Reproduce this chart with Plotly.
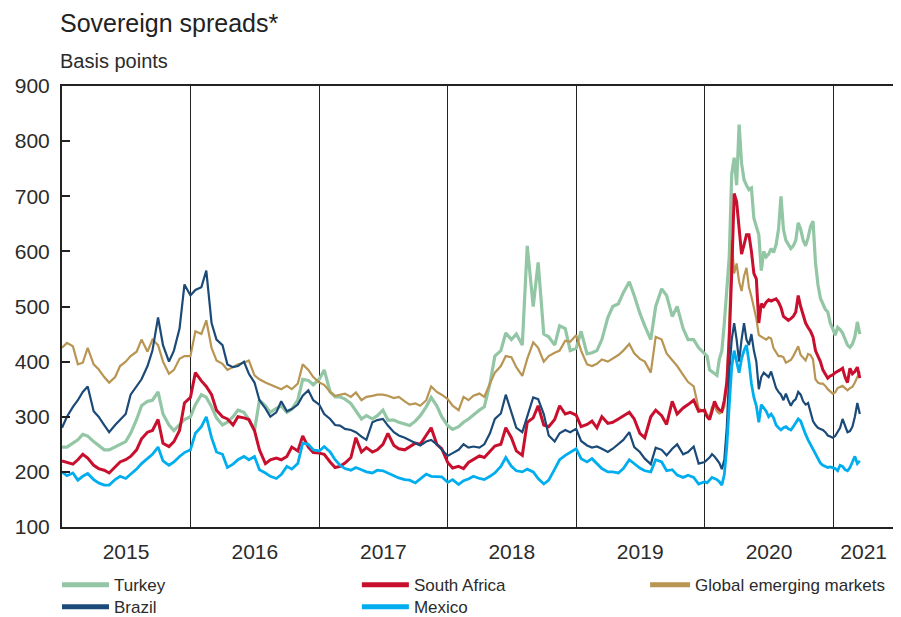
import pandas as pd
import plotly.graph_objects as go

# Dates: semi-monthly 2015-2019, weekly from 2020 to March 2021
dates_semi = list(pd.date_range("2015-01-01", "2019-12-15", freq="SMS"))
dates_week = list(pd.date_range("2020-01-01", periods=64, freq="7D"))
dates = dates_semi + dates_week

turkey = [
    245, 245, 252, 258, 268, 265, 255, 248, 240, 240, 246, 250, 255, 270, 295, 320, 328, 330, 345, 305, 285, 275, 285, 295,
    300, 322, 340, 335, 318, 298, 285, 290, 300, 312, 308, 295, 275, 330, 320, 308, 315, 320, 308, 314, 330, 368, 366, 358,
    368, 385, 345, 336, 336, 332, 324, 312, 296, 302, 296, 302, 312, 294, 294, 290, 286, 284, 292, 302, 318, 335, 320, 300,
    284, 277, 282, 290, 296, 304, 312, 318, 360, 410, 420, 452, 440, 450, 430, 610, 500, 580, 450, 445, 430, 465, 460, 420,
    424, 455, 414, 416, 420, 440, 480, 500, 505, 525, 545, 520, 488, 465, 440, 500, 532, 520, 482, 500, 460, 440, 440, 425,
    415, 410, 385, 382, 378, 375, 405, 420, 470, 540, 590, 740, 770, 720, 830, 760, 730, 720, 712, 715,
    660, 645, 630, 565, 600, 590, 595, 605, 598, 612, 640, 700, 640, 620, 612, 605, 610, 620, 652, 640,
    620, 610, 625, 645, 655, 580, 540, 515, 505, 495, 490, 470, 460, 448, 462, 458, 452, 440, 430, 426,
    432, 445, 472, 450,
]
brazil = [
    280, 300, 318, 330, 345, 355, 310, 300, 285, 272, 285, 295, 305, 340, 356, 368, 392, 420, 480, 430, 400, 420, 460, 540,
    520, 530, 535, 565, 470, 440, 430, 395, 390, 392, 400, 378, 362, 330, 315, 300, 308, 328, 310, 314, 322, 338, 348, 330,
    322, 305, 296, 285, 284, 278, 276, 272, 264, 258, 290, 294, 296, 284, 272, 266, 262, 258, 252, 248, 255, 258, 250, 240,
    229, 234, 240, 250, 244, 246, 244, 250, 270, 296, 306, 340, 310, 280, 272, 300, 335, 332, 305, 266, 255, 270, 276, 272,
    278, 256, 248, 244, 246, 242, 236, 242, 250, 258, 272, 245, 236, 224, 214, 244, 240, 230, 242, 250, 232, 236, 246, 215,
    218, 222, 226, 232, 228, 222, 216, 205, 222, 280, 380, 440, 470, 440, 400, 440, 470, 440, 430, 450,
    420, 400, 350, 372, 380, 376, 372, 382, 366, 352, 345, 340, 330, 342, 330, 320, 328, 332, 345, 340,
    328, 322, 325, 310, 292, 285, 280, 278, 276, 272, 266, 264, 262, 265, 272, 280, 296, 284, 272, 274,
    282, 300, 325, 305,
]
south_africa = [
    220, 217, 214, 222, 232, 225, 212, 206, 203, 198, 210, 218, 222, 228, 240, 260, 272, 275, 295, 252, 246, 255, 275, 325,
    335, 380, 365, 355, 340, 312, 300, 296, 285, 300, 298, 295, 275, 240, 215, 222, 225, 222, 228, 245, 238, 265, 245, 235,
    234, 232, 218, 208, 210, 216, 226, 262, 236, 244, 236, 240, 250, 270, 248, 242, 240, 246, 252, 250, 266, 280, 250, 242,
    217, 207, 210, 206, 217, 222, 229, 226, 238, 247, 250, 280, 262, 238, 230, 290, 298, 320, 285, 282, 295, 320, 305, 308,
    303, 282, 286, 292, 280, 300, 288, 290, 296, 302, 308, 296, 270, 262, 300, 312, 302, 286, 328, 305, 316, 322, 330, 310,
    312, 300, 295, 310, 328, 318, 312, 310, 330, 362, 440, 560, 705, 690, 640, 595, 612, 630, 630, 600,
    560, 550, 470, 505, 500, 508, 512, 510, 512, 514, 508, 498, 482, 478, 475, 478, 482, 490, 520, 500,
    485, 470, 462, 455, 445, 420, 410, 400, 385, 378, 370, 374, 376, 380, 382, 385, 388, 372, 362, 388,
    378, 382, 390, 370,
]
mexico = [
    200, 193, 198, 185, 192, 197, 186, 180, 176, 176, 186, 192, 188, 195, 205, 215, 225, 232, 245, 220, 212, 218, 228, 235,
    240, 270, 282, 300, 262, 236, 232, 208, 214, 222, 228, 222, 228, 204, 198, 192, 188, 195, 210, 205, 215, 252, 250, 240,
    238, 246, 236, 222, 212, 206, 203, 208, 204, 200, 198, 203, 202, 198, 192, 189, 186, 185, 180, 188, 196, 192, 192, 191,
    181, 186, 177, 184, 187, 192, 188, 186, 192, 198, 210, 226, 210, 202, 200, 205, 200, 188, 178, 185, 205, 222, 230, 236,
    242, 224, 218, 224, 214, 206, 200, 200, 198, 206, 222, 215, 207, 202, 200, 222, 218, 202, 204, 194, 190, 194, 190, 178,
    182, 180, 186, 190, 188, 186, 182, 176, 195, 245, 320, 390, 420, 400, 380, 405, 420, 430, 400, 360,
    335, 320, 290, 322, 316, 310, 300, 305, 298, 285, 280, 276, 280, 282, 278, 276, 282, 290, 296, 292,
    278, 268, 258, 250, 242, 232, 225, 216, 212, 210, 208, 209, 208, 206, 202, 212, 210, 204, 202, 208,
    218, 228, 215, 220,
]
global_em = [
    425, 434, 428, 395, 398, 425, 395, 386, 372, 362, 372, 392, 400, 410, 418, 440, 418, 440, 430, 400, 378, 385, 405, 410,
    410, 455, 450, 475, 425, 402, 396, 385, 390, 395, 398, 402, 375, 368, 362, 358, 354, 350, 356, 350, 360, 395, 385, 372,
    362, 358, 345, 338, 340, 342, 336, 344, 330, 336, 338, 340, 340, 338, 334, 336, 328, 322, 324, 320, 330, 355, 345, 340,
    332, 320, 312, 336, 330, 338, 342, 336, 360, 380, 392, 410, 408, 390, 374, 405, 435, 425, 400, 410, 416, 420, 438, 436,
    448, 420, 395, 392, 396, 404, 400, 405, 412, 420, 432, 415, 405, 400, 380, 445, 440, 415, 402, 392, 376, 363, 355, 315,
    308, 304, 300, 318, 320, 310, 306, 308, 318, 360, 470, 620, 560, 578, 545, 528, 555, 570, 535, 518,
    500, 478, 448, 445, 442, 440, 444, 442, 424, 416, 410, 410, 408, 398, 400, 403, 410, 418, 428, 412,
    406, 402, 414, 412, 404, 368, 362, 360, 360, 356, 350, 346, 342, 344, 352, 354, 356, 352, 348, 352,
    354, 362, 372, 382,
]

year_labels = ["2015", "2016", "2017", "2018", "2019", "2020", "2021"]
label_dates = ["2015-07-02", "2016-07-02", "2017-07-02", "2018-07-02", "2019-07-02", "2020-07-02", "2021-03-28"]
year_starts = ["2016-01-01", "2017-01-01", "2018-01-01", "2019-01-01", "2020-01-01", "2021-01-01"]

series = [
    ("Turkey", turkey, "#93c6a4", 3.2),
    ("Global emerging markets", global_em, "#b89552", 2.2),
    ("South Africa", south_africa, "#c8102e", 3.0),
    ("Brazil", brazil, "#1b4a78", 2.2),
    ("Mexico", mexico, "#00aeef", 2.8),
]
# legend slots: name, legend id, x (paper), row, symbol width
legend_slots = [
    ("Turkey", "legend", -0.006, 0, 47),
    ("South Africa", "legend2", 0.354, 0, 47),
    ("Global emerging markets", "legend3", 0.700, 0, 40),
    ("Brazil", "legend4", -0.006, 1, 47),
    ("Mexico", "legend5", 0.354, 1, 47),
]
row_y = [-0.091, -0.141]

FONT = "Liberation Sans, Arial, sans-serif"
TXT = "#2b2b2b"

fig = go.Figure()
for name, vals, color, w in series:
    assert len(vals) == len(dates), (name, len(vals), len(dates))
    fig.add_trace(go.Scatter(x=dates, y=vals, mode="lines", name=name,
                             showlegend=False, line=dict(color=color, width=w)))
colors = {s[0]: s[2] for s in series}
legends = {}
for name, lid, lx, r, iw in legend_slots:
    fig.add_trace(go.Scatter(x=[None], y=[None], mode="lines", name=name, legend=lid,
                             showlegend=True, line=dict(color=colors[name], width=5)))
    legends[lid] = dict(orientation="v", x=lx, xanchor="left", y=row_y[r], yanchor="top",
                        font=dict(size=17, color=TXT), itemwidth=iw, tracegroupgap=0,
                        bgcolor="rgba(0,0,0,0)")

# page body has an 8px margin: figure occupies 8..901 x 8..617
W, H = 893, 609

fig.update_layout(
    width=W, height=H,
    margin=dict(l=54, r=6, t=78, b=90, autoexpand=False),
    paper_bgcolor="white", plot_bgcolor="white",
    font=dict(family=FONT, color=TXT, size=17),
    showlegend=True,
    xaxis=dict(
        type="date", range=["2015-01-01", "2021-06-25"],
        tickmode="array", tickvals=label_dates, ticktext=year_labels,
        ticks="", showgrid=False, zeroline=False,
        showline=True, linewidth=2, linecolor="#222", mirror=True,
        tickfont=dict(size=21, color=TXT), ticklabelstandoff=5,
        minor=dict(tickmode="array", tickvals=year_starts, showgrid=True,
                   gridcolor="#222", gridwidth=1, ticks=""),
    ),
    yaxis=dict(
        range=[100, 900], tickmode="linear", tick0=100, dtick=100,
        ticks="inside", ticklen=8, tickwidth=2, tickcolor="#222",
        showgrid=False, zeroline=False,
        showline=True, linewidth=2, linecolor="#222", mirror=True,
        tickfont=dict(size=21, color=TXT), ticklabelstandoff=6,
    ),
    annotations=[
        dict(text="Sovereign spreads*", xref="paper", yref="paper", x=0, y=1.143,
             xanchor="left", yanchor="middle", xshift=-4, showarrow=False,
             font=dict(size=25, color="#222", family=FONT)),
        dict(text="Basis points", xref="paper", yref="paper", x=0, y=1.057,
             xanchor="left", yanchor="middle", xshift=-4, showarrow=False,
             font=dict(size=20, color=TXT, family=FONT)),
    ],
    **legends,
)

fig.write_html("out.html")
